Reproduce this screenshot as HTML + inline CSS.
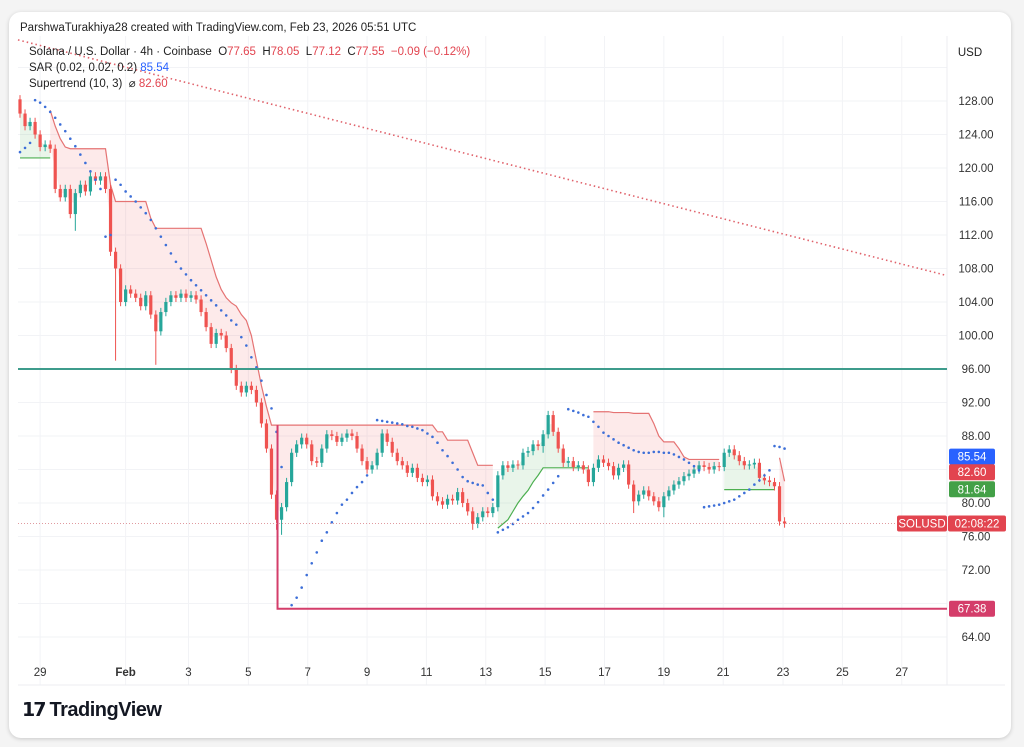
<!DOCTYPE html>
<html><head><meta charset="utf-8">
<style>
body{margin:0;background:#f4f4f4;width:1024px;height:747px;overflow:hidden;font-family:"Liberation Sans",sans-serif}
#card{position:absolute;left:9px;top:12px;width:1002px;height:726px;background:#fff;border-radius:12px;box-shadow:0 1px 4px rgba(0,0,0,.18)}
svg{position:absolute;left:0;top:0}
</style></head><body>
<div id="card"></div>
<svg id="chart" width="1024" height="747"></svg>
<script>
const closes=[126.5,125,125.5,124,122.5,122.8,122.3,117.5,116.5,117.5,114.5,117,118,117.2,119,118.5,119,117.5,110,108,104,105.5,105,104.5,103.5,104.8,102.5,100.5,102.8,104,104.8,104.5,105,104.5,104.8,104.3,102.8,101,99,100.3,100,98.5,96,94,93.2,94,93.5,92,89.5,86.5,81,78,79.5,82.5,86,87,87.8,87,85,84.8,86.5,88.2,88,87.3,87.8,88.3,88,86.5,85,84,84.5,86,88.3,87.3,86,85,84.5,83.6,84.2,83,82.5,82.8,80.8,80.2,79.8,80.5,80.3,81.3,80,79,77.5,78.3,79,78.8,79.5,83.3,84.5,84.2,84.6,84.5,86,86.2,87,86.8,88.2,90.5,88.5,86.5,84.8,85,84.3,84.5,84,82.5,84.2,85.2,84.8,84.4,83.3,84.2,84.6,82.2,80.2,81,81.5,80.8,80.2,79.5,80.8,81.5,82.2,82.6,83.2,83.5,84,84.5,84.3,84,84.4,84.3,86,86.4,85.7,85,84.5,84.6,84.8,83,82.7,82.5,82,77.8,77.55];
const firstOpen=128.2;
const longWickIdx=[11,19,27,51,52,90,104,122,128];
const longWickLow=[112.5,97,96.5,76.8,76.2,76.8,86,78.8,78.3];
const sarSegs=[
 {start:0,dir:'up',vals:[121.9,122.4,123.0]},
 {start:3,dir:'down',vals:[128.1,127.8,127.3,126.7,126,125.2,124.4,123.5,122.6,121.6,120.6,119.6,118.6,117.5]},
 {start:17,dir:'up',vals:[111.8,112.0]},
 {start:19,dir:'down',vals:[118.6,118,117.2,116.6,116,115.3,114.6,113.8,112.8,111.8,110.8,109.8,108.8,108,107.3,106.6,106,105.4,104.8,104.2,103.6,103,102.4,101.8,101.3,99.8,98.8,97.4,96.2,94.6,92.9,91.3,88.5,84.3]},
 {start:54,dir:'up',vals:[67.8,68.7,69.9,71.4,72.8,74.1,75.5,76.5,77.7,78.8,79.8,80.4,81.2,81.9,82.5,83.3]},
 {start:71,dir:'down',vals:[89.9,89.8,89.7,89.6,89.5,89.4,89.2,89.1,88.9,88.7,88.3,87.9,87.2,86.3,85.6,84.8,84,83.1,82.6,82.4,82.2,82.1,81.2,80.4]},
 {start:95,dir:'up',vals:[76.5,76.8,77.1,77.5,78,78.4,78.8,79.4,80.1,80.9,81.6,82.4,83.2]},
 {start:109,dir:'down',vals:[91.2,91.0,90.8,90.5,90.3,89.7,89.1,88.4,88,87.6,87.2,86.9,86.6,86.3,86.1,86,86,86.1,86.1,86,86,85.8,85.5,85.2,84.8,84.4,83.9]},
 {start:136,dir:'up',vals:[79.5,79.6,79.7,79.8,80,80.2,80.4,80.8,81.2,81.6,82.2,82.7,83.3,83.9]},
 {start:150,dir:'down',vals:[86.8,86.7,86.5]}
];
const stSegs=[
 {start:0,dir:'up',vals:[121.2,121.2,121.2,121.2,121.2,121.2,121.2]},
 {start:6,dir:'down',vals:[126.9,125,123.5,122.5,122.3,122.3,122.3,122.3,122.3,122.3,122.3,122.3,118,116,116,116,116,116,116,116,114,112.8,112.8,112.8,112.8,112.8,112.8,112.8,112.8,112.8,112.8,111,109,107,105.5,104.5,103.9,103.5,102.5,101.8,100,97,94,91.5,89.3,89.3,89.3,89.3,89.3,89.3,89.3,89.3,89.3,89.3,89.3,89.3,89.3,89.3,89.3,89.3,89.3,89.3,89.3,89.3,89.3,89.3,89.3,89.3,89.3,89.3,89.3,89.3,89.3,89.3,89.3,89.3,89.3,88.5,88.5,87.5,87.5,87.5,87.5,87.5,86,84.5,84.5,84.5,84.5]},
 {start:95,dir:'up',vals:[77,77.5,78,79,80,80.8,81.5,82.5,83.3,84.2,84.2,84.2,84.2,84.2,84.2,84.2,84.2,84.2,84.2]},
 {start:114,dir:'down',vals:[90.9,90.9,90.9,90.9,90.8,90.8,90.8,90.8,90.7,90.7,90.7,90.7,89.5,88,87.3,87.3,87.3,86.5,85.5,85.2,85.2,85.2,85.2,85.2,85.2,85.2]},
 {start:140,dir:'up',vals:[81.6,81.6,81.6,81.6,81.6,81.6,81.6,81.6,81.6,81.6,81.6]},
 {start:151,dir:'down',vals:[85.4,82.6]}
];
const priceTicks=[132,128,124,120,116,112,108,104,100,96,92,88,84,80,76,72,68,64];
const dateLabels=['29','Feb','3','5','7','9','11','13','15','17','19','21','23','25','27'];
const dateIdx=[4,21,33.5,45.4,57.2,69,80.8,92.6,104.4,116.2,128,139.8,151.7,163.5,175.3];
const trendPts=[{i:-0.4,p:135.3},{i:184,p:107.2}];
const supportLevel=96, lowLevel=67.38, lastPrice=77.55;

const NS='http://www.w3.org/2000/svg';
const svg=document.getElementById('chart');
const X0=20,DX=5.03,PL=18,PR=947,PT=36,PB=656;
const xs=i=>X0+i*DX;
const ys=p=>101+(128-p)*8.375;
function el(tag,attrs,parent){const e=document.createElementNS(NS,tag);for(const k in attrs)e.setAttribute(k,attrs[k]);(parent||svg).appendChild(e);return e;}
const defs=el('defs',{});const cp=el('clipPath',{id:'pc'},defs);el('rect',{x:PL,y:PT,width:PR-PL,height:PB-PT},cp);
const grid=el('g',{});
priceTicks.forEach(t=>{el('line',{x1:PL,x2:PR,y1:ys(t),y2:ys(t),stroke:'#f2f3f6'},grid);});
dateIdx.forEach(d=>{el('line',{x1:xs(d),x2:xs(d),y1:PT,y2:685,stroke:'#f2f3f6'},grid);});
el('line',{x1:PR,x2:PR,y1:PT,y2:685,stroke:'#eceef2'});
el('line',{x1:PL,x2:1005,y1:685,y2:685,stroke:'#eceef2'});
const plot=el('g',{'clip-path':'url(#pc)'});
const opens=closes.map((c,i)=>i?closes[i-1]:firstOpen);
stSegs.forEach(s=>{
  const col=s.dir==='up'?'#4caf50':'#e57373', fill=s.dir==='up'?'rgba(76,175,80,0.12)':'rgba(239,83,80,0.12)';
  let top='',bot=[];
  s.vals.forEach((v,k)=>{const i=s.start+k;top+=(k?'L':'M')+xs(i)+','+ys(v);const m=i<closes.length?(opens[i]+closes[i])/2:v;bot.push(xs(i)+','+ys(m));});
  const f=el('path',{d:top+'L'+bot.reverse().join('L')+'Z',fill:fill,stroke:'none'},plot);
  
  
  const l=el('path',{d:top,fill:'none',stroke:col,'stroke-width':1.2},plot);
  
  
});
const sl=el('line',{x1:PL,x2:PR,y1:ys(supportLevel),y2:ys(supportLevel),stroke:'#3e9c8c','stroke-width':2});


const ll=el('path',{d:`M${xs(51)+1},${ys(89.3)}V${ys(lowLevel)}H${PR}`,fill:'none',stroke:'#d43d6a','stroke-width':2});


const pl=el('line',{x1:PL,x2:PR,y1:ys(lastPrice),y2:ys(lastPrice),stroke:'#e09a9f','stroke-dasharray':'1 2'});


const tl=el('line',{x1:xs(trendPts[0].i),y1:ys(trendPts[0].p),x2:xs(trendPts[1].i),y2:ys(trendPts[1].p),stroke:'#e0626b','stroke-width':1.6,'stroke-dasharray':'1.5 3'},svg);


closes.forEach((c,i)=>{
  const o=opens[i],up=c>=o,col=up?'#26a69a':'#ef5350';
  let hi=Math.max(o,c)+0.5,lo=Math.min(o,c)-0.5;
  const w=longWickIdx.indexOf(i);if(w>=0)lo=longWickLow[w];
  const g=el('g',{},plot);
  
  
  el('line',{x1:xs(i),x2:xs(i),y1:ys(hi),y2:ys(lo),stroke:col,'stroke-width':1},g);
  const y1=ys(Math.max(o,c)),h=Math.max(1,ys(Math.min(o,c))-y1);
  el('rect',{x:xs(i)-1.6,y:y1,width:3.2,height:h,fill:col},g);
});
sarSegs.forEach(s=>s.vals.forEach((v,k)=>{
  const d=el('circle',{cx:xs(s.start+k),cy:ys(v),r:1.3,fill:'#3d6fd8'},plot);
  
  
}));
priceTicks.forEach(t=>{
  if(t===84||t===68||t===132)return;
  const tx=el('text',{x:976,y:ys(t)+4,'text-anchor':'middle','font-size':11.5,fill:'#333'});tx.textContent=t.toFixed(2);
  
  
});
dateLabels.forEach((d,k)=>{
  const tx=el('text',{x:xs(dateIdx[k]),y:676,'text-anchor':'middle','font-size':11.5,fill:'#333','font-weight':d==='Feb'?'bold':'normal'});tx.textContent=d;
  
  
});
function tag(x,y,w,bg,txt,name){const g=el('g',{});
  
  
  el('rect',{x:x,y:y-8,width:w,height:16,rx:2,fill:bg},g);
  const t=el('text',{x:x+w/2,y:y+4,'text-anchor':'middle','font-size':11.5,fill:'#fff'},g);t.textContent=txt;}
tag(949,ys(85.54),46,'#2962ff','85.54','sar-value-tag');
tag(949,ys(82.6)-9,46,'#e2444f','82.60','supertrend-value-tag');
tag(949,ys(81.64),46,'#43a047','81.64','supertrend-up-tag');
tag(897,ys(lastPrice),50,'#e2444f','SOLUSD','symbol-tag');
tag(948,ys(lastPrice),58,'#e2444f','02:08:22','countdown-tag');
tag(949,ys(lowLevel),46,'#d43d6a','67.38','low-level-tag');
const usd=el('text',{x:970,y:56,'text-anchor':'middle','font-size':11.5,fill:'#222'});usd.textContent='USD';


</script>
<div style="position:absolute;left:20px;top:20px;font-size:11.5px;color:#222;line-height:16px">
<div>ParshwaTurakhiya28 created with TradingView.com, Feb 23, 2026 05:51 UTC</div>
<div style="margin-top:8px;margin-left:9px">Solana / U.S. Dollar · 4h · Coinbase &nbsp;O<span style="color:#e2444f">77.65</span> &nbsp;H<span style="color:#e2444f">78.05</span> &nbsp;L<span style="color:#e2444f">77.12</span> &nbsp;C<span style="color:#e2444f">77.55</span> &nbsp;<span style="color:#e2444f">−0.09 (−0.12%)</span></div>
<div style="margin-left:9px">SAR (0.02, 0.02, 0.2) <span style="color:#2962ff">85.54</span></div>
<div style="margin-left:9px">Supertrend (10, 3) &nbsp;⌀ <span style="color:#e2444f">82.60</span></div>
</div>
<div style="position:absolute;left:22px;top:699px;font-size:20px;font-weight:bold;color:#131722;letter-spacing:-0.5px"><span style="font-size:19px;letter-spacing:-2px">𝟭𝟳</span> TradingView</div>
</body></html>
